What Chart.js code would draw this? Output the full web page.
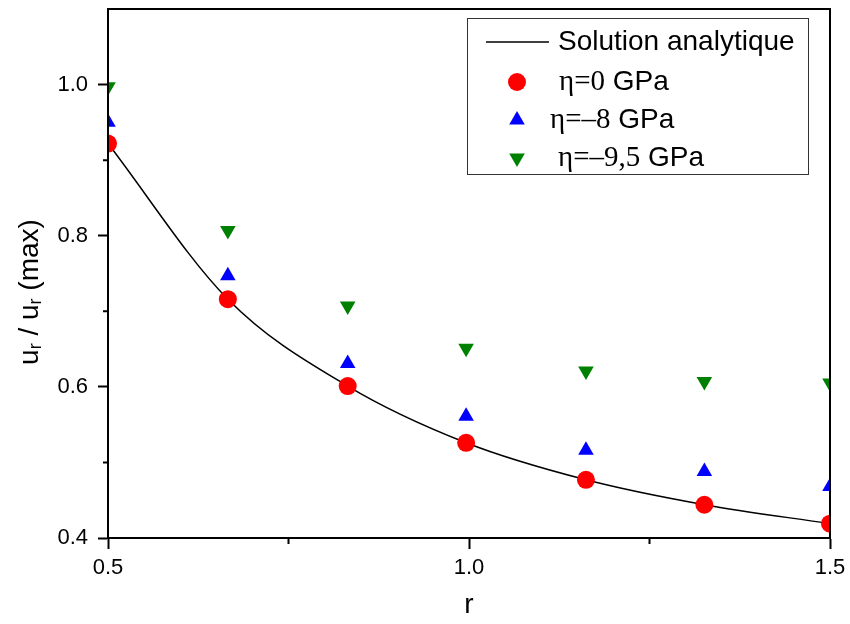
<!DOCTYPE html>
<html lang="fr">
<head>
  <meta charset="utf-8">
  <title>u_r / u_r(max) en fonction de r</title>
  <script src="https://cdn.jsdelivr.net/npm/chart.js@4.4.1/dist/chart.umd.min.js"></script>
  <style>
    body { margin: 0; background: #fff; }
    #wrap { width: 850px; height: 624px; }
  </style>
</head>
<body>
  <div id="wrap"><canvas id="chart" width="850" height="624"></canvas></div>
  <script>
    // values
    const rValues   = [0.5, 0.666, 0.832, 0.996, 1.162, 1.326, 1.5];
    const analytic  = [0.922, 0.716, 0.601, 0.526, 0.477, 0.444, 0.419];
    const eta0      = [0.922, 0.716, 0.601, 0.526, 0.477, 0.444, 0.419];
    const eta8      = [0.950, 0.747, 0.631, 0.561, 0.516, 0.488, 0.468];
    const eta95     = [0.997, 0.807, 0.707, 0.651, 0.621, 0.607, 0.605];

    const seriesNames = ['Solution analytique', 'η=0', 'η=–8', 'η=–9,5'];
    const unitText = ' GPa';
    const yMinorTicks = [0.5, 0.7, 0.9];
    const xMinorTicks = [0.75, 1.25];

    const sans = '"Liberation Sans", Arial, sans-serif';
    const serif = '"Liberation Serif", "Times New Roman", serif';

    const pts = arr => rValues.map((x, i) => ({ x: x, y: arr[i] }));

    // frame, minor ticks, y title with subscripts, legend
    const extras = {
      id: 'extras',
      afterDraw(chart) {
        const ctx = chart.ctx;
        const a = chart.chartArea;
        const xs = chart.scales.x, ys = chart.scales.y;
        ctx.save();
        ctx.strokeStyle = '#000';
        ctx.lineWidth = 2;
        ctx.strokeRect(a.left, a.top, a.right - a.left, a.bottom - a.top);

        ctx.beginPath();
        yMinorTicks.forEach(v => {
          const y = ys.getPixelForValue(v);
          ctx.moveTo(a.left - 5, y); ctx.lineTo(a.left, y);
        });
        xMinorTicks.forEach(v => {
          const x = xs.getPixelForValue(v);
          ctx.moveTo(x, a.bottom); ctx.lineTo(x, a.bottom + 6);
        });
        ctx.stroke();

        // y axis title: u_r / u_r (max)
        const big = '28px ' + sans, small = '18px ' + sans;
        const parts = [['u', big, 0], ['r', small, 6], [' / u', big, 0], ['r', small, 6], [' (max)', big, 0]];
        let total = 0;
        parts.forEach(p => { ctx.font = p[1]; total += ctx.measureText(p[0]).width; });
        ctx.translate(30, 292);
        ctx.rotate(-Math.PI / 2);
        ctx.fillStyle = '#000';
        ctx.textBaseline = 'middle';
        ctx.textAlign = 'left';
        let px = -total / 2;
        parts.forEach(p => {
          ctx.font = p[1];
          ctx.fillText(p[0], px, p[2]);
          px += ctx.measureText(p[0]).width;
        });
        ctx.restore();

        // legend
        ctx.save();
        ctx.strokeStyle = '#333';
        ctx.lineWidth = 1;
        ctx.strokeRect(467.5, 18.5, 341, 156);
        const rows = [42, 82, 120, 158];
        const textX = [558, 559, 550, 558];
        ctx.textBaseline = 'middle';
        ctx.fillStyle = '#000';
        chart.data.datasets.forEach((ds, i) => {
          const y = rows[i];
          if (i === 0) {
            ctx.beginPath();
            ctx.strokeStyle = ds.borderColor;
            ctx.lineWidth = 1.5;
            ctx.moveTo(486, y); ctx.lineTo(549, y);
            ctx.stroke();
            ctx.font = '28px ' + sans;
            ctx.fillStyle = '#000';
            ctx.fillText(seriesNames[0], textX[0], y);
          } else {
            drawMarker(ctx, ds.pointStyle, ds.pointRotation || 0, 517, y, ds.pointRadius, ds.backgroundColor);
            ctx.fillStyle = '#000';
            ctx.font = '29px ' + serif;
            ctx.fillText(seriesNames[i], textX[i], y);
            const w = ctx.measureText(seriesNames[i]).width;
            ctx.font = '28px ' + sans;
            ctx.fillText(unitText, textX[i] + w, y);
          }
        });
        ctx.restore();
      }
    };

    function drawMarker(ctx, style, rot, x, y, r, color) {
      ctx.save();
      ctx.fillStyle = color;
      ctx.translate(x, y);
      ctx.rotate(rot * Math.PI / 180);
      ctx.beginPath();
      if (style === 'circle') {
        ctx.arc(0, 0, r, 0, Math.PI * 2);
      } else {
        for (let k = 0; k < 3; k++) {
          const ang = -Math.PI / 2 + k * 2 * Math.PI / 3;
          const vx = Math.cos(ang) * r, vy = Math.sin(ang) * r;
          if (k === 0) ctx.moveTo(vx, vy); else ctx.lineTo(vx, vy);
        }
        ctx.closePath();
      }
      ctx.fill();
      ctx.restore();
    }

    new Chart(document.getElementById('chart'), {
      type: 'scatter',
      data: {
        datasets: [
          {
            type: 'line',
            label: seriesNames[0],
            data: pts(analytic),
            borderColor: '#000',
            borderWidth: 1.5,
            pointRadius: 0,
            cubicInterpolationMode: 'monotone',
            fill: false,
            order: 10
          },
          {
            label: seriesNames[1],
            data: pts(eta0),
            pointStyle: 'circle',
            pointRadius: 9,
            backgroundColor: '#ff0000',
            borderWidth: 0,
            clip: 0,
            order: 3
          },
          {
            label: seriesNames[2],
            data: pts(eta8),
            pointStyle: 'triangle',
            pointRadius: 9,
            backgroundColor: '#0000ff',
            borderWidth: 0,
            clip: 0,
            order: 2
          },
          {
            label: seriesNames[3],
            data: pts(eta95),
            pointStyle: 'triangle',
            pointRotation: 180,
            pointRadius: 9,
            backgroundColor: '#008000',
            borderWidth: 0,
            clip: 0,
            order: 1
          }
        ]
      },
      options: {
        responsive: false,
        animation: false,
        events: [],
        layout: { padding: { top: 6, right: 20, left: 0, bottom: 0 } },
        plugins: { legend: { display: false }, tooltip: { enabled: false } },
        scales: {
          x: {
            type: 'linear',
            min: 0.5,
            max: 1.5,
            afterFit: s => { s.height = 86; s.paddingLeft = 0; s.paddingRight = 0; },
            border: { color: '#000', width: 2 },
            grid: { drawOnChartArea: false, drawTicks: true, tickLength: 11, tickWidth: 2, tickColor: '#000' },
            ticks: {
              stepSize: 0.5,
              padding: 6,
              color: '#000',
              font: { family: sans, size: 22 },
              callback: v => v.toFixed(1)
            },
            title: { display: true, text: 'r', color: '#000', font: { family: sans, size: 28 }, padding: { top: 0, bottom: 2 } }
          },
          y: {
            type: 'linear',
            min: 0.4,
            max: 1.1,
            afterFit: s => { s.width = 108; s.paddingTop = 0; s.paddingBottom = 0; },
            border: { color: '#000', width: 2 },
            grid: { drawOnChartArea: false, drawTicks: true, tickLength: 10, tickWidth: 2, tickColor: '#000' },
            ticks: {
              stepSize: 0.2,
              includeBounds: false,
              padding: 10,
              color: '#000',
              font: { family: sans, size: 22 },
              callback: v => v.toFixed(1)
            }
          }
        }
      },
      plugins: [extras]
    });
  </script>
</body>
</html>
